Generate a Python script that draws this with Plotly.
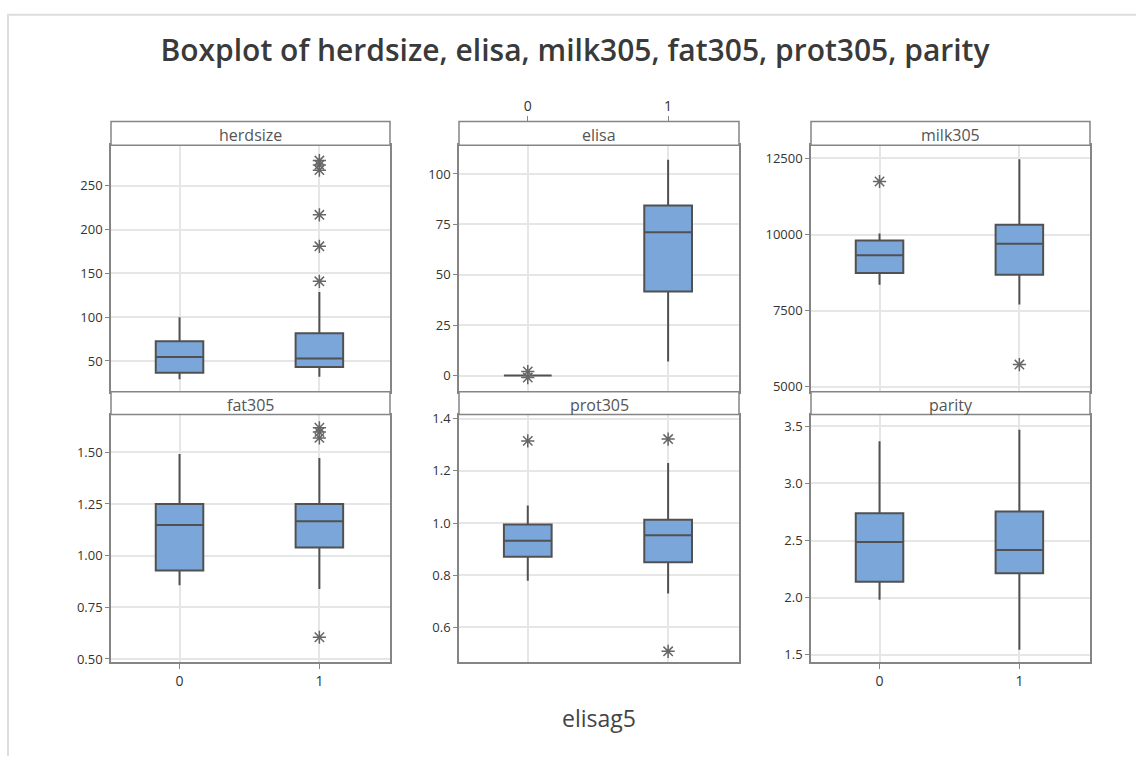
import plotly.graph_objects as go

# ---------------- data ----------------
variables = ["herdsize", "elisa", "milk305", "fat305", "prot305", "parity"]
groups = [0, 1]
group_labels = ["0", "1"]

lower_whisker = [[29, 32], [0, 7], [8350, 7700], [0.857, 0.838], [0.779, 0.73], [1.98, 1.543]]
q1_vals = [[36.5, 43.2], [0, 41.7], [8739, 8684], [0.928, 1.04], [0.871, 0.85], [2.139, 2.213]]
median_vals = [[54.5, 52.7], [0, 71.1], [9321, 9700], [1.148, 1.166], [0.932, 0.953], [2.488, 2.416]]
q3_vals = [[72.6, 81.6], [0, 84.3], [9806, 10323], [1.25, 1.25], [0.994, 1.013], [2.739, 2.754]]
upper_whisker = [[100, 128.7], [0, 107], [10030, 12468], [1.492, 1.473], [1.067, 1.23], [3.37, 3.47]]

outliers_g0 = [[], [2, -1], [11740], [], [1.315], []]
outliers_g1 = [[141, 181, 217, 268, 274, 279], [], [5734], [1.57, 1.598, 1.619, 0.605], [1.322, 0.508], []]

y_ticks = [
    [50, 100, 150, 200, 250],
    [0, 25, 50, 75, 100],
    [5000, 7500, 10000, 12500],
    [0.5, 0.75, 1.0, 1.25, 1.5],
    [0.6, 0.8, 1.0, 1.2, 1.4],
    [1.5, 2.0, 2.5, 3.0, 3.5],
]
y_tick_text = [
    ["50", "100", "150", "200", "250"],
    ["0", "25", "50", "75", "100"],
    ["5000", "7500", "10000", "12500"],
    ["0.50", "0.75", "1.00", "1.25", "1.50"],
    ["0.6", "0.8", "1.0", "1.2", "1.4"],
    ["1.5", "2.0", "2.5", "3.0", "3.5"],
]
y_ranges = [[14.7, 296.6], [-8.1, 114.3], [4838, 12933], [0.484, 1.683], [0.466, 1.416], [1.433, 3.604]]

title_text = "Boxplot of herdsize, elisa, milk305, fat305, prot305, parity"
x_title = "elisag5"

# ---------------- layout geometry (pixels) ----------------
W, H = 1136, 761
col_px = [(111, 390), (459, 739), (811, 1090)]
row_plot_px = [(142, 392), (415, 666)]
row_strip_px = [(118, 142), (392, 415)]
x_range = [-0.49, 1.505]


def fx(x):
    return x / W


def fy(y):
    return 1 - y / H


BOX_FILL = "#7BA6DA"
BOX_LINE = "#515151"
BORDER = "#858585"
GRID = "#e6e6e6"
TEXT = "#333333"
FONT = "Open Sans"

fig = go.Figure()
shapes = []
annotations = []

for i, var in enumerate(variables):
    r, c = divmod(i, 3)
    n = i + 1
    xa = "x" if n == 1 else f"x{n}"
    ya = "y" if n == 1 else f"y{n}"
    fig.add_trace(go.Box(
        x=groups,
        q1=q1_vals[i], median=median_vals[i], q3=q3_vals[i],
        lowerfence=lower_whisker[i], upperfence=upper_whisker[i],
        width=0.34, whiskerwidth=0,
        fillcolor=BOX_FILL, line=dict(color=BOX_LINE, width=2),
        boxpoints=False, hoverinfo="skip", showlegend=False,
        xaxis=xa, yaxis=ya,
    ))
    ox = [0] * len(outliers_g0[i]) + [1] * len(outliers_g1[i])
    oy = list(outliers_g0[i]) + list(outliers_g1[i])
    if oy:
        fig.add_trace(go.Scatter(
            x=ox, y=oy, mode="markers",
            marker=dict(symbol="asterisk-open", size=11, color="#666666",
                        line=dict(color="#666666", width=1.5)),
            hoverinfo="skip", showlegend=False, xaxis=xa, yaxis=ya,
        ))

    x0, x1 = col_px[c]
    y0, y1 = row_plot_px[r]
    show_bottom = (r == 1 and c in (0, 2))
    xaxis = dict(
        domain=[fx(x0), fx(x1)], range=x_range, anchor=ya,
        tickvals=groups, ticktext=group_labels,
        showgrid=True, gridcolor=GRID, gridwidth=1.5,
        zeroline=False, showline=True, linecolor=BORDER, linewidth=1.5, mirror=True,
        showticklabels=show_bottom, ticks="outside" if show_bottom else "",
        ticklen=5, tickcolor=BORDER, tickwidth=1,
        tickfont=dict(family=FONT, size=14, color=TEXT), fixedrange=True,
    )
    yaxis = dict(
        domain=[fy(y1), fy(y0)], range=y_ranges[i], anchor=xa,
        tickvals=y_ticks[i], ticktext=y_tick_text[i],
        showgrid=True, gridcolor=GRID, gridwidth=1.5,
        zeroline=False, showline=True, linecolor=BORDER, linewidth=1.5, mirror=True,
        ticks="outside", ticklen=4, tickcolor=BORDER, tickwidth=1,
        tickfont=dict(family=FONT, size=13, color=TEXT), fixedrange=True,
    )
    fig.update_layout({("xaxis" if n == 1 else f"xaxis{n}"): xaxis,
                       ("yaxis" if n == 1 else f"yaxis{n}"): yaxis})

    sy0, sy1 = row_strip_px[r]
    shapes.append(dict(type="rect", xref="paper", yref="paper",
                       x0=fx(x0), x1=fx(x1), y0=fy(sy1), y1=fy(sy0),
                       fillcolor="white", line=dict(color=BORDER, width=1.5), layer="above"))
    annotations.append(dict(text=var, xref="paper", yref="paper",
                            x=fx((x0 + x1) / 2), y=fy(sy1 + 3), xanchor="center", yanchor="bottom",
                            showarrow=False, font=dict(family=FONT, size=16, color="#555555")))

# top tick axis over the elisa panel (above its strip)
fig.add_trace(go.Scatter(x=groups, y=[None, None], mode="markers", showlegend=False,
                         hoverinfo="skip", xaxis="x7", yaxis="y2"))
fig.update_layout(xaxis7=dict(
    overlaying="x2", anchor="free", position=fy(118), side="top",
    range=x_range, tickvals=groups, ticktext=group_labels,
    showgrid=False, zeroline=False, showline=False,
    ticks="outside", ticklen=5, tickcolor=BORDER, tickwidth=1,
    tickfont=dict(family=FONT, size=14, color=TEXT), fixedrange=True,
))

# outer light frame
shapes.append(dict(type="line", xref="paper", yref="paper", x0=fx(7), x1=1, y0=fy(10), y1=fy(10),
                   line=dict(color="#dddddd", width=2)))
shapes.append(dict(type="line", xref="paper", yref="paper", x0=fx(8), x1=fx(8), y0=fy(10), y1=0,
                   line=dict(color="#dddddd", width=2)))

annotations.append(dict(text=x_title, xref="paper", yref="paper", x=fx(599), y=fy(723),
                        xanchor="center", yanchor="middle", showarrow=False,
                        font=dict(family=FONT, size=23, color="#444444")))

fig.update_layout(
    width=W, height=H, margin=dict(l=0, r=0, t=0, b=0),
    paper_bgcolor="white", plot_bgcolor="white",
    title=dict(text=title_text, x=fx(575), y=fy(50), xanchor="center", yanchor="middle",
               font=dict(family=FONT, size=30, color="#3a3a3a", weight=600)),
    shapes=shapes, annotations=annotations, showlegend=False,
)

fig.write_html("out.html", config={"displayModeBar": False},
               post_script="document.body.style.margin='0';document.body.style.overflow='hidden';")
